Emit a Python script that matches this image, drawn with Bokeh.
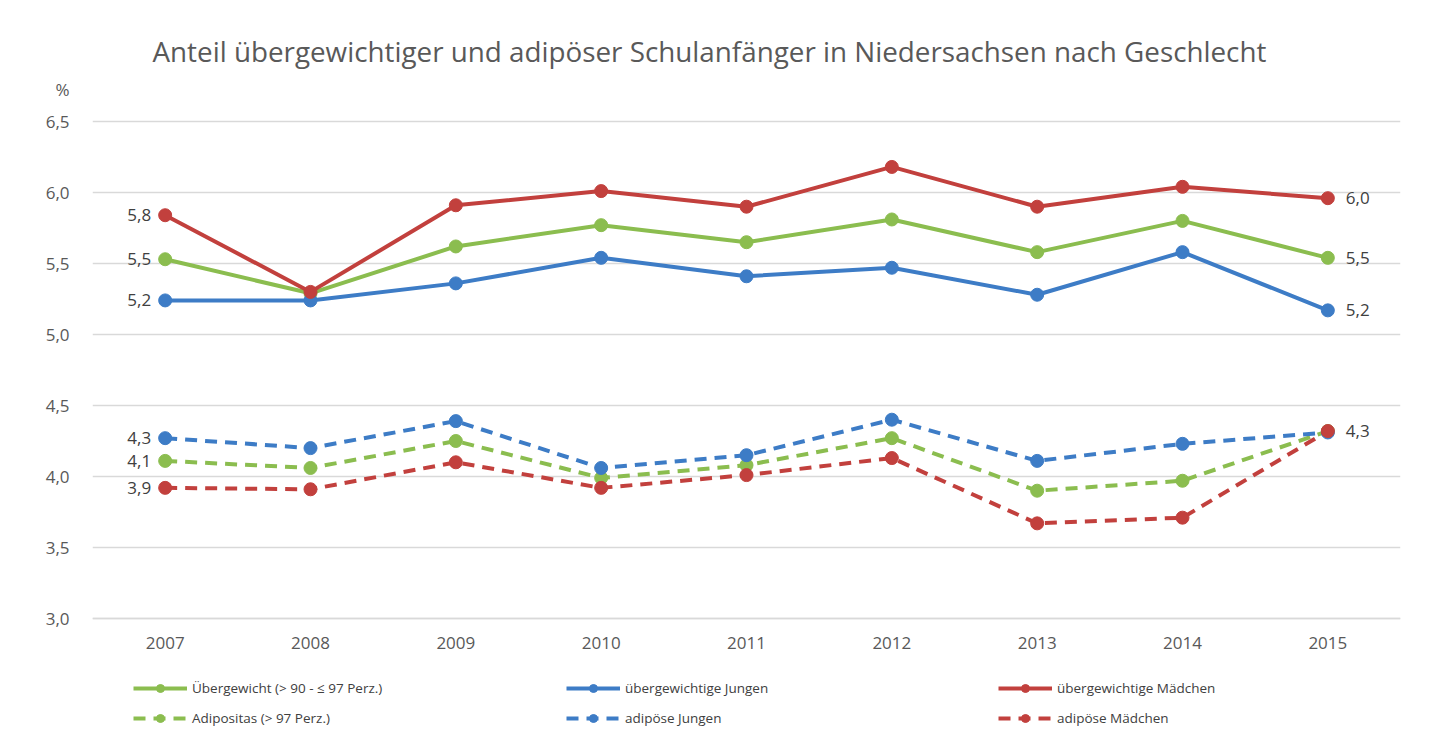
from bokeh.plotting import figure
from bokeh.models import (Legend, LegendItem, ColumnDataSource, FixedTicker,
                          CustomJSTickFormatter, FactorRange, Range1d)
from bokeh.embed import file_html
from bokeh.resources import INLINE

# ---- data ----
years = ["2007", "2008", "2009", "2010", "2011", "2012", "2013", "2014", "2015"]
uebergewicht = [5.53, 5.29, 5.62, 5.77, 5.65, 5.81, 5.58, 5.80, 5.54]
jungen_ueber = [5.24, 5.24, 5.36, 5.54, 5.41, 5.47, 5.28, 5.58, 5.17]
maedchen_ueber = [5.84, 5.30, 5.91, 6.01, 5.90, 6.18, 5.90, 6.04, 5.96]
adipositas = [4.11, 4.06, 4.25, 3.99, 4.08, 4.27, 3.90, 3.97, 4.32]
jungen_adip = [4.27, 4.20, 4.39, 4.06, 4.15, 4.40, 4.11, 4.23, 4.31]
maedchen_adip = [3.92, 3.91, 4.10, 3.92, 4.01, 4.13, 3.67, 3.71, 4.32]
y_ticks = [3.0, 3.5, 4.0, 4.5, 5.0, 5.5, 6.0, 6.5]
unit_label = "%"

title_text = "Anteil übergewichtiger und adipöser Schulanfänger in Niedersachsen nach Geschlecht"
series = [
    ("Übergewicht (> 90 - ≤ 97 Perz.)", uebergewicht, "#8bbd4f", "solid"),
    ("übergewichtige Jungen", jungen_ueber, "#3d7cc6", "solid"),
    ("übergewichtige Mädchen", maedchen_ueber, "#c2403d", "solid"),
    ("Adipositas (> 97 Perz.)", adipositas, "#8bbd4f", "12 8"),
    ("adipöse Jungen", jungen_adip, "#3d7cc6", "12 8"),
    ("adipöse Mädchen", maedchen_adip, "#c2403d", "12 8"),
]

FONT = "Open Sans"
TXT = "#595959"

W, H = 1430, 740
TOP, LEFT, RIGHT = 78, 92, 30       # frame box (pixels)
GRID_TOP_PX = 121                   # pixel row of the highest gridline
UNIT_PX = 89                        # pixel row of the unit label
PX_PER_UNIT = 142.0
y_top = y_ticks[-1] + (GRID_TOP_PX - TOP) / PX_PER_UNIT
y_bottom = y_top - (H - TOP) / PX_PER_UNIT     # frame extends below 3.0 to host the legend
unit_pos = y_ticks[-1] + (GRID_TOP_PX - UNIT_PX) / PX_PER_UNIT

p = figure(width=W, height=H, x_range=FactorRange(factors=years),
           y_range=Range1d(y_bottom, y_top), output_backend="svg", toolbar_location=None,
           min_border_left=LEFT, min_border_right=RIGHT, min_border_top=TOP,
           min_border_bottom=0)
p.outline_line_color = None
p.background_fill_color = "white"
p.border_fill_color = "white"

p.title.text = title_text
p.title.align = "left"
p.title.offset = 60
p.title.text_font = FONT
p.title.text_font_size = "27.8px"
p.title.text_font_style = "normal"
p.title.text_color = TXT
if "standoff" in type(p.title).properties():
    p.title.standoff = 17

p.xgrid.grid_line_color = None
p.ygrid.ticker = FixedTicker(ticks=y_ticks)
p.ygrid.grid_line_color = "#d9d9d9"
p.ygrid.grid_line_width = 1.5

# the unit "%" sits at the top of the value axis as its highest label
p.yaxis.ticker = FixedTicker(ticks=y_ticks + [unit_pos])
p.yaxis.formatter = CustomJSTickFormatter(
    args=dict(top=y_ticks[-1], unit=unit_label),
    code="return tick > top + 1e-6 ? unit : tick.toFixed(1).replace('.', ',');")
p.yaxis.axis_line_color = None
p.yaxis.major_tick_line_color = None
p.yaxis.minor_tick_line_color = None
p.yaxis.major_label_standoff = 17

p.xaxis.fixed_location = y_ticks[0]
p.xaxis.axis_line_color = "#d9d9d9"
p.xaxis.axis_line_width = 1.5
p.xaxis.major_tick_line_color = None
p.xaxis.major_label_standoff = 12

for ax in (p.xaxis[0], p.yaxis[0]):
    ax.major_label_text_font = FONT
    ax.major_label_text_font_size = "17px"
    ax.major_label_text_color = TXT

renderers = []
for name, vals, col, dash in series:
    src = ColumnDataSource(dict(x=years, y=vals))
    lr = p.line("x", "y", source=src, line_color=col, line_width=4, line_dash=dash)
    sr = p.scatter("x", "y", source=src, size=13, fill_color=col, line_color=col)
    renderers.append((name, [lr, sr]))

def fmt(v):
    return f"{v:.1f}".replace(".", ",")

# data labels at the left (2007)
left_vals = [s[1][0] for s in series]
left_src = ColumnDataSource(dict(x=[years[0]] * len(left_vals), y=left_vals,
                                 t=[fmt(v) for v in left_vals]))
p.text("x", "y", text="t", source=left_src, x_offset=-14, text_align="right",
       text_baseline="middle", text_font_size="17px", text_color="#404040",
       text_font={"value": FONT})

# data labels at the right (2015)
right_vals = [uebergewicht[-1], jungen_ueber[-1], maedchen_ueber[-1], maedchen_adip[-1]]
right_src = ColumnDataSource(dict(x=[years[-1]] * len(right_vals), y=right_vals,
                                  t=[fmt(v) for v in right_vals]))
p.text("x", "y", text="t", source=right_src, x_offset=18, text_align="left",
       text_baseline="middle", text_font_size="17px", text_color="#404040",
       text_font={"value": FONT})

# legend: three columns of two rows under the x axis
col_x = [41, 474, 906]
for c in range(3):
    items = [LegendItem(label=renderers[c][0], renderers=renderers[c][1]),
             LegendItem(label=renderers[c + 3][0], renderers=renderers[c + 3][1])]
    leg = Legend(items=items, location=(col_x[c], 12), orientation="vertical",
                 glyph_width=54, glyph_height=20, spacing=10, padding=0, margin=0,
                 label_standoff=5, border_line_color=None, background_fill_alpha=0,
                 label_text_font=FONT, label_text_font_size="13.5px",
                 label_text_color="#404040")
    p.add_layout(leg)

open("out.html", "w").write(file_html(p, INLINE))
